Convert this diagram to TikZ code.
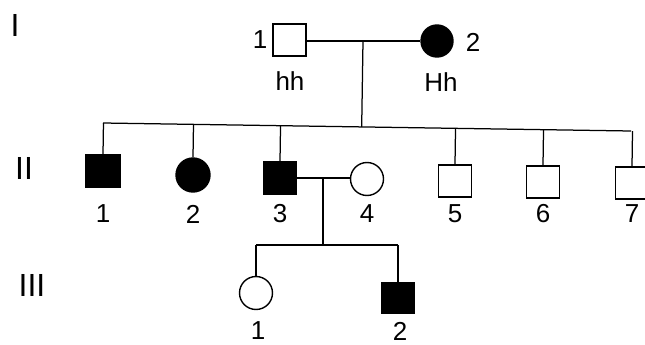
\documentclass[tikz,border=0pt]{standalone}
\usepackage{fontspec}
\setmainfont{Liberation Sans}
\usetikzlibrary{calc}
\begin{document}
\begin{tikzpicture}[x=1pt,y=-1pt,
  male/.style={draw, rectangle, minimum width=33pt, minimum height=32pt, inner sep=0pt, line width=1.4pt},
  female/.style={draw, circle, minimum size=33pt, inner sep=0pt, line width=1.4pt},
  aff/.style={fill=black},
  lbl/.style={font=\fontsize{26}{26}\selectfont, inner sep=0pt},
  gen/.style={font=\fontsize{32}{32}\selectfont, inner sep=0pt},
  ln/.style={line width=1.25pt}]
\useasboundingbox (0,0) rectangle (645,345);
% generation labels
\node[gen] (gI) at (15,25) {I};
\node[gen] (gII) at (24,168) {II};
\node[gen] (gIII) at (32,285) {III};
% generation I
\node[male] (a1) at (289.5,40) {};
\node[female, aff, minimum size=32pt] (a2) at (437,41) {};
\node[lbl] (a1n) at (260,40) {1};
\node[lbl] (a2n) at (473,42) {2};
\node[lbl] (a1g) at (290,81) {hh};
\node[lbl] (a2g) at (441,82) {Hh};
\coordinate (m1) at (363,41);
\draw[ln] (a1.east |- m1) -- (a2.west |- m1);
% generation II
\coordinate (sL) at (103,123);
\coordinate (sR) at (631,131);
\node[male, aff, minimum width=34pt] (b1) at (103,171) {};
\node[female, aff, minimum width=33pt, minimum height=34pt] (b2) at (193,175) {};
\node[male, aff] (b3) at (280,178) {};
\node[female] (b4) at (367,179) {};
\node[male] (b5) at (455,181) {};
\node[male] (b6) at (543,182) {};
\node[male] (b7) at (632,183) {};
\draw[ln] (sL) -- (sR);
\coordinate (d1) at ($(sL)!(m1)!(sR)$);
\draw[ln] (m1) -- (d1);
\foreach \n in {b1,b2,b3,b5,b6,b7}{
  \draw[ln] (\n.north) -- ($(sL)!(\n.north)!(sR)$);
}
\foreach \n/\t in {b1/1,b2/2,b3/3,b4/4,b5/5,b6/6,b7/7}{
  \node[lbl] (\n l) at (\n |- 0,214) {\t};
}
\coordinate (m2) at (323,178);
\draw[ln] (b3.east |- m2) -- (b4.west |- m2);
\coordinate (d2) at (323,245);
\draw[ln] (m2) -- (d2);
% generation III
\node[female] (c1) at (256,293) {};
\node[male, aff, minimum height=31pt] (c2) at (398,298) {};
\coordinate (tL) at (256,245);
\coordinate (tR) at (398,245);
\draw[ln] (tL) -- (tR);
\draw[ln] (c1.north) -- (tL);
\draw[ln] (c2.north) -- (tR);
\node[lbl] (c1l) at (258,331) {1};
\node[lbl] (c2l) at (400,331) {2};
\end{tikzpicture}
\end{document}
